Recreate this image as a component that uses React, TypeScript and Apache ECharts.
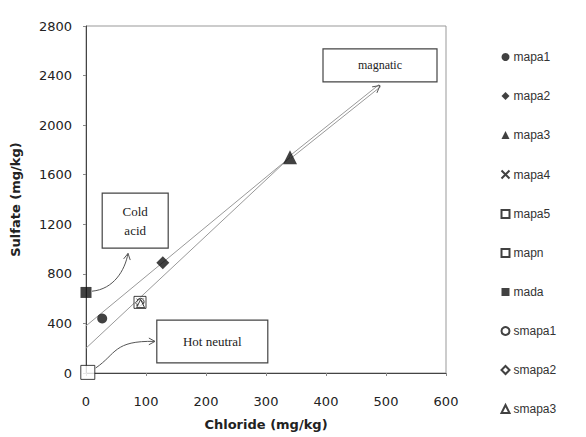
import React, { useEffect, useRef } from "react";
import * as echarts from "echarts";

// ---- data (Chloride mg/kg, Sulfate mg/kg) ----
const seriesNames = ["mapa1", "mapa2", "mapa3", "mapa4", "mapa5", "mapn", "mada", "smapa1", "smapa2", "smapa3"];
const mapa1 = [[27, 440]];
const mapa2 = [[128, 890]];
const mapa3 = [[340, 1740]];
const mapa4 = [[90, 572]];
const mapa5 = [[90, 570]];
const mapn = [[3, 5]];
const mada = [[0, 650]];
const smapa1 = [[91, 574]];
const smapa2 = [[89, 566]];
const smapa3 = [[91, 560]];
const trendUpper = [[0, 380], [340, 1740]];
const trendLower = [[0, 200], [340, 1740]];
const magmaticArrow = [[340, 1740], [490, 2320]];
const coldArrow = [[10, 660], [70, 965]];
const hotArrow = [[16, 40], [115, 255]];
const coldBox = [[27, 1452], [137, 1008]];
const hotBox = [[118, 427], [303, 81]];
const magBox = [[395, 2615], [585, 2349]];

const X_PATH = "path://M0,0L10,10M10,0L0,10";

export default function App() {
  const ref = useRef<HTMLDivElement>(null);
  useEffect(() => {
    if (!ref.current) return;
    const chart = echarts.init(ref.current, null, { renderer: "svg" });
    const black = "#111";
    const mk = (name: string, data: number[][], symbol: string, size: number, filled: boolean, z = 5) => ({
      name,
      type: "scatter",
      data,
      symbol,
      symbolSize: size,
      z,
      itemStyle: filled
        ? { color: black, borderColor: black, borderWidth: 0 }
        : { color: symbol === X_PATH ? "none" : "#fff", borderColor: black, borderWidth: 1 },
    });
    const lineS = (data: number[][]) => ({
      type: "line",
      data,
      symbol: "none",
      silent: true,
      z: 2,
      lineStyle: { color: "#999", width: 1 },
    });
    const plain = (v: number) => String(v);
    chart.setOption({
      animation: false,
      backgroundColor: "#fff",
      grid: { left: 86, right: 140, top: 26, bottom: 64, show: true, borderColor: "#999", borderWidth: 1 },
      xAxis: {
        type: "value",
        min: 0,
        max: 600,
        interval: 100,
        splitLine: { show: false },
        axisLine: { lineStyle: { color: "#444" } },
        axisTick: { show: true, length: 3, lineStyle: { color: "#888" } },
        axisLabel: { margin: 22, fontFamily: "DejaVu Sans", fontSize: 13, color: "#222", formatter: plain },
        name: "Chloride (mg/kg)",
        nameLocation: "middle",
        nameGap: 45,
        nameTextStyle: { fontFamily: "DejaVu Sans", fontWeight: "bold", fontSize: 13, color: "#222" },
      },
      yAxis: {
        type: "value",
        min: 0,
        max: 2800,
        interval: 400,
        splitLine: { show: false },
        axisLine: { lineStyle: { color: "#444" } },
        axisTick: { show: true, length: 3, lineStyle: { color: "#888" } },
        axisLabel: { margin: 14, fontFamily: "DejaVu Sans", fontSize: 13, color: "#222", formatter: plain },
        name: "Sulfate (mg/kg)",
        nameLocation: "middle",
        nameGap: 64,
        nameTextStyle: { fontFamily: "DejaVu Sans", fontWeight: "bold", fontSize: 13, color: "#222" },
      },
      legend: {
        orient: "vertical",
        left: 494,
        top: 46,
        itemWidth: 8,
        itemHeight: 8,
        itemGap: 27,
        data: seriesNames,
        textStyle: { fontFamily: "Liberation Sans", fontSize: 12, color: "#333", lineHeight: 12, padding: [0, 0, 0, -1] },
      },
      series: [
        lineS(trendUpper),
        lineS(trendLower),
        mk("mapa1", mapa1, "circle", 10, true),
        mk("mapa2", mapa2, "diamond", 13, true),
        mk("mapa3", mapa3, "triangle", 14, true),
        mk("mapa4", mapa4, X_PATH, 7, false),
        mk("mapa5", mapa5, "rect", 12, false, 4),
        mk("mapn", mapn, "rect", 14, false),
        mk("mada", mada, "rect", 11, true),
        mk("smapa1", smapa1, "circle", 7, false),
        mk("smapa2", smapa2, "diamond", 8, false),
        mk("smapa3", smapa3, "triangle", 8, false),
      ],
    });

    const px = (p: number[]) => chart.convertToPixel({ xAxisIndex: 0, yAxisIndex: 0 }, p) as number[];
    const stroke = { stroke: "#555", lineWidth: 1, fill: "none" };
    const head = (tip: number[], from: number[], len = 7) => {
      const a = Math.atan2(tip[1] - from[1], tip[0] - from[0]);
      const p1 = [tip[0] - len * Math.cos(a - 0.5), tip[1] - len * Math.sin(a - 0.5)];
      const p2 = [tip[0] - len * Math.cos(a + 0.5), tip[1] - len * Math.sin(a + 0.5)];
      return { type: "polyline", shape: { points: [p1, tip, p2] }, style: { ...stroke }, z: 10 };
    };
    const box = (b: number[][], lines: string[], fs: number) => {
      const a = px(b[0]);
      const c = px(b[1]);
      const x = Math.min(a[0], c[0]);
      const y = Math.min(a[1], c[1]);
      const w = Math.abs(c[0] - a[0]);
      const h = Math.abs(c[1] - a[1]);
      return [
        { type: "rect", shape: { x, y, width: w, height: h }, style: { fill: "#fff", stroke: "#444", lineWidth: 1.2 }, z: 10 },
        {
          type: "text",
          x: x + w / 2,
          y: y + h / 2,
          z: 11,
          style: {
            text: lines.join("\n"),
            fontFamily: "Liberation Serif",
            fontSize: fs,
            lineHeight: fs + 6,
            fill: "#222",
            align: "center",
            verticalAlign: "middle",
          },
        },
      ];
    };
    // magmatic double-shaft arrow
    const m0 = px(magmaticArrow[0]);
    const m1 = px(magmaticArrow[1]);
    const ang = Math.atan2(m1[1] - m0[1], m1[0] - m0[0]);
    const off = 1.3;
    const ox = -Math.sin(ang) * off;
    const oy = Math.cos(ang) * off;
    const magLines = [1, -1].map((s) => ({
      type: "line",
      shape: { x1: m0[0] + s * ox, y1: m0[1] + s * oy, x2: m1[0] + s * ox, y2: m1[1] + s * oy },
      style: { stroke: "#999", lineWidth: 1 },
      z: 3,
    }));
    // cold acid curved arrow
    const c0 = px(coldArrow[0]);
    const c1 = px(coldArrow[1]);
    const cc1 = [c0[0] + (c1[0] - c0[0]) * 0.6, c0[1] - 2];
    const cc2 = [c1[0] - 3, c1[1] + (c0[1] - c1[1]) * 0.45];
    // hot neutral curved arrow
    const h0 = px(hotArrow[0]);
    const h1 = px(hotArrow[1]);
    const hc1 = [h0[0] + (h1[0] - h0[0]) * 0.35, h0[1] - 14];
    const hc2 = [h0[0] + (h1[0] - h0[0]) * 0.3, h1[1] - 1];
    chart.setOption({
      graphic: [
        ...magLines,
        head(m1, m0, 8),
        {
          type: "bezierCurve",
          shape: { x1: c0[0], y1: c0[1], cpx1: cc1[0], cpy1: cc1[1], cpx2: cc2[0], cpy2: cc2[1], x2: c1[0], y2: c1[1] },
          style: { ...stroke },
          z: 10,
        },
        head(c1, cc2),
        {
          type: "bezierCurve",
          shape: { x1: h0[0], y1: h0[1], cpx1: hc1[0], cpy1: hc1[1], cpx2: hc2[0], cpy2: hc2[1], x2: h1[0], y2: h1[1] },
          style: { ...stroke },
          z: 10,
        },
        head(h1, [h1[0] - 10, h1[1]]),
        ...box(coldBox, ["Cold", "acid"], 13),
        ...box(hotBox, ["Hot neutral"], 13),
        ...box(magBox, ["magnatic"], 12),
      ],
    });
    return () => chart.dispose();
  }, []);
  return <div ref={ref} style={{ width: 586, height: 437, position: "absolute", left: 0, top: 0 }} />;
}
